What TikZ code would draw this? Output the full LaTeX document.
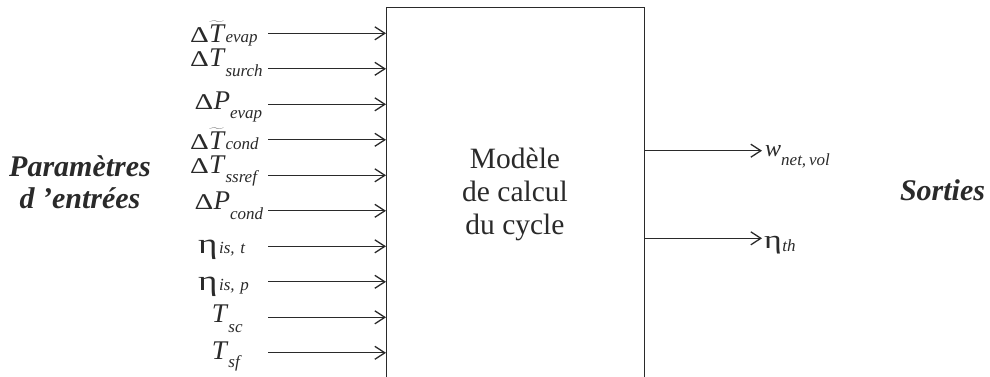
\documentclass[tikz,border=0pt]{standalone}
\usepackage{graphicx}
\usepackage{fontspec}
\setmainfont{Liberation Serif}
\usetikzlibrary{arrows.meta}
\definecolor{ink}{HTML}{2A2A2A}
\newcommand\bigD{\scalebox{1.3}[1]{\fontsize{22.5}{23}\selectfont Δ}}
\newcommand\mainit[1]{{\fontsize{27}{28}\selectfont\itshape #1}}
\newcommand\subit[2]{\raisebox{-#1pt}{\fontsize{17}{18}\selectfont\itshape #2}}
\newcommand\etag[1]{\scalebox{1.3}[1]{\fontsize{#1}{#1}\selectfont η}}
\newcommand\tT{$\widetilde{\mbox{\mainit{T}}}$}
\begin{document}
\begin{tikzpicture}[x=1pt,y=-1pt,
  lab/.style={inner sep=0pt, anchor=base west, text=ink},
  title/.style={font=\fontsize{30}{31.5}\selectfont\bfseries\itshape, inner sep=0pt, align=center, text=ink},
  arr/.style={draw=ink, line width=1.3pt, -{Straight Barb[length=10pt,width=13pt,line width=1.3pt]}},
  frame/.style={draw=ink, line width=1.4pt, inner sep=0pt}]
\useasboundingbox (0,0) rectangle (990,376);
\clip (0,0) rectangle (990,376);
\node[frame, minimum width=258pt, minimum height=400pt, anchor=north west] (box) at (386,7) {};
\node[font=\fontsize{29.5}{33}\selectfont, align=center, inner sep=0pt, text=ink] (model) at (515,194.5) {Modèle\\de calcul\\du cycle};
% inputs
\coordinate (s1) at (268,33.3);
\coordinate (s2) at (268,68.8);
\coordinate (s3) at (268,104.3);
\coordinate (s4) at (268,139.8);
\coordinate (s5) at (268,175.3);
\coordinate (s6) at (268,210.8);
\coordinate (s7) at (268,246.3);
\coordinate (s8) at (268,281.8);
\coordinate (s9) at (268,317.3);
\coordinate (s10) at (268,352.8);
\node[lab] (l1) at (190,42.3) {\bigD\tT\kern1.5pt\subit{0}{evap}};
\node[lab] (l2) at (190,66.7) {\bigD\mainit{T}\kern1.5pt\subit{10}{surch}};
\node[lab] (l3) at (194.5,109.8) {\bigD\mainit{P}\subit{9}{evap}};
\node[lab] (l4) at (190,149.3) {\bigD\tT\kern1.5pt\subit{0}{cond}};
\node[lab] (l5) at (190,173.3) {\bigD\mainit{T}\kern1.5pt\subit{9.4}{ssref}};
\node[lab] (l6) at (194.5,209.3) {\bigD\mainit{P}\subit{9.7}{cond}};
\node[lab] (l7) at (198,253.3) {\etag{28.5}\kern1.5pt\subit{0}{is,\,\,t}};
\node[lab] (l8) at (198,290) {\etag{28.5}\kern1.5pt\subit{0}{is,\,\,p}};
\node[lab] (l9) at (211.7,322.7) {\mainit{T}\kern1.5pt\subit{10}{sc}};
\node[lab] (l10) at (211.7,359.3) {\mainit{T}\kern1.5pt\subit{8.5}{sf}};
\foreach \i in {1,...,10} {\draw[arr] (s\i) -- (s\i -| box.west);}
% outputs
\coordinate (o1) at (762,150.7);
\coordinate (o2) at (762,238.3);
\draw[arr] (box.east |- o1) -- (o1);
\draw[arr] (box.east |- o2) -- (o2);
\node[lab] (w) at (765,156.7) {{\fontsize{24}{25}\selectfont\itshape w}\subit{8.3}{net,\,vol}};
\node[lab] (eta) at (764,248.3) {\etag{26}\kern0.5pt\subit{3.4}{th}};
% titles
\node[title] (param) at (80,182) {Paramètres\\d 'entrées};
\node[title, anchor=base] (sorties) at (942.5,200) {Sorties};
\end{tikzpicture}
\end{document}
